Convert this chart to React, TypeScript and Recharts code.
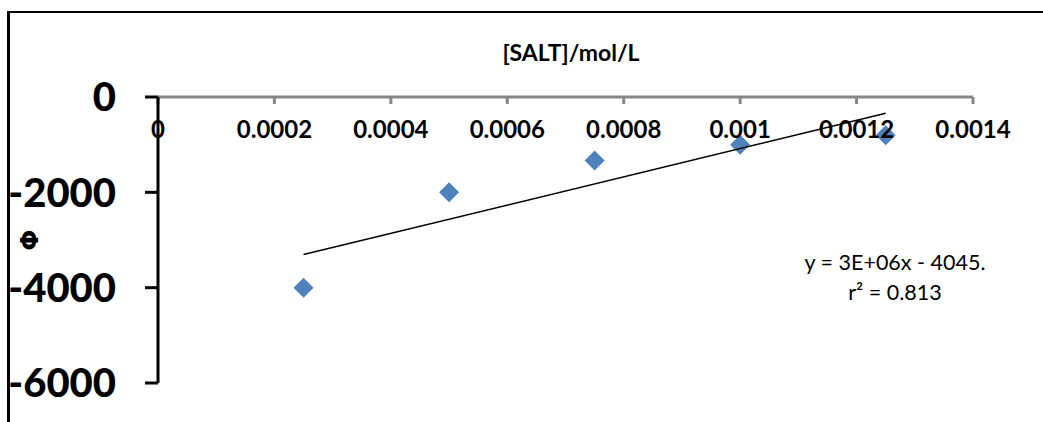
import React from 'react';
import { ScatterChart, Scatter, XAxis, YAxis } from 'recharts';

// values
const saltConc = [0.00025, 0.0005, 0.00075, 0.001, 0.00125];
const phiValues = [-4000, -2000, -1333, -1000, -800];
const trendX = [0.00025, 0.00125];
const trendY = [-3305, -340];
const xTicks = [0, 0.0002, 0.0004, 0.0006, 0.0008, 0.001, 0.0012, 0.0014];
const yTicks = [-6000, -4000, -2000, 0];
const equationLines = ['y = 3E+06x - 4045.', 'r\u00B2 = 0.813'];

const points = saltConc.map((x, i) => ({ x, y: phiValues[i] }));
const trend = trendX.map((x, i) => ({ x, y: trendY[i] }));

const Diamond = (props: any) => {
  const { cx, cy } = props;
  const r = 10;
  return (
    <polygon
      points={`${cx},${cy - r} ${cx + r},${cy} ${cx},${cy + r} ${cx - r},${cy}`}
      fill="#4F81BD"
    />
  );
};

const PhiLabel = (props: any) => {
  const vb = props.viewBox;
  const x = vb.x + 29;
  const y = vb.y + vb.height / 2;
  return (
    <text
      x={x}
      y={y}
      transform={`rotate(-90 ${x} ${y})`}
      textAnchor="middle"
      dominantBaseline="central"
      fontSize={25}
      fontWeight="bold"
      fontFamily="DejaVu Sans"
      fill="#000"
    >
      Φ
    </text>
  );
};

export default function App() {
  return (
    <div
      style={{
        position: 'absolute',
        left: 0,
        top: 0,
        width: 1043,
        height: 422,
        background: '#fff',
        fontFamily: 'Lato, sans-serif',
        overflow: 'hidden',
      }}
    >
      {/* chart frame: only top and left edges are visible in the crop */}
      <div
        style={{
          position: 'absolute',
          left: 7,
          top: 11,
          width: 1100,
          height: 500,
          borderTop: '2px solid #000',
          borderLeft: '3px solid #000',
        }}
      />
      <div
        style={{
          position: 'absolute',
          left: 471,
          top: 38,
          width: 200,
          textAlign: 'center',
          fontSize: 23,
          lineHeight: '28px',
          fontWeight: 'bold',
        }}
      >
        [SALT]/mol/L
      </div>
      <div
        style={{
          position: 'absolute',
          left: 795,
          top: 247,
          width: 200,
          textAlign: 'center',
          fontSize: 21.5,
          lineHeight: '30px',
        }}
      >
        {equationLines.map((line) => (
          <div key={line}>{line}</div>
        ))}
      </div>
      <div style={{ position: 'absolute', left: 0, top: 0 }}>
        <ScatterChart
          width={1043}
          height={422}
          margin={{ top: 97, right: 70, bottom: 39, left: 0 }}
        >
          <XAxis
            type="number"
            dataKey="x"
            domain={[0, 0.0014]}
            ticks={xTicks}
            interval={0}
            orientation="top"
            mirror
            tickSize={7}
            tickMargin={17}
            axisLine={{ stroke: '#868686', strokeWidth: 3 }}
            tickLine={{ stroke: '#868686', strokeWidth: 3 }}
            tick={{ fill: '#000', fontSize: 24, fontWeight: 'bold' }}
          />
          <YAxis
            type="number"
            dataKey="y"
            domain={[-6000, 0]}
            ticks={yTicks}
            interval={0}
            width={158}
            tickSize={13}
            tickMargin={29}
            axisLine={{ stroke: '#000', strokeWidth: 3 }}
            tickLine={{ stroke: '#000', strokeWidth: 3 }}
            tick={{ fill: '#000', fontSize: 40, fontWeight: 900 }}
            label={{ content: PhiLabel }}
          />
          <Scatter data={points} shape={Diamond} isAnimationActive={false} />
          <Scatter
            data={trend}
            line={{ stroke: '#000', strokeWidth: 1.5 }}
            shape={() => <g />}
            isAnimationActive={false}
          />
        </ScatterChart>
      </div>
    </div>
  );
}
